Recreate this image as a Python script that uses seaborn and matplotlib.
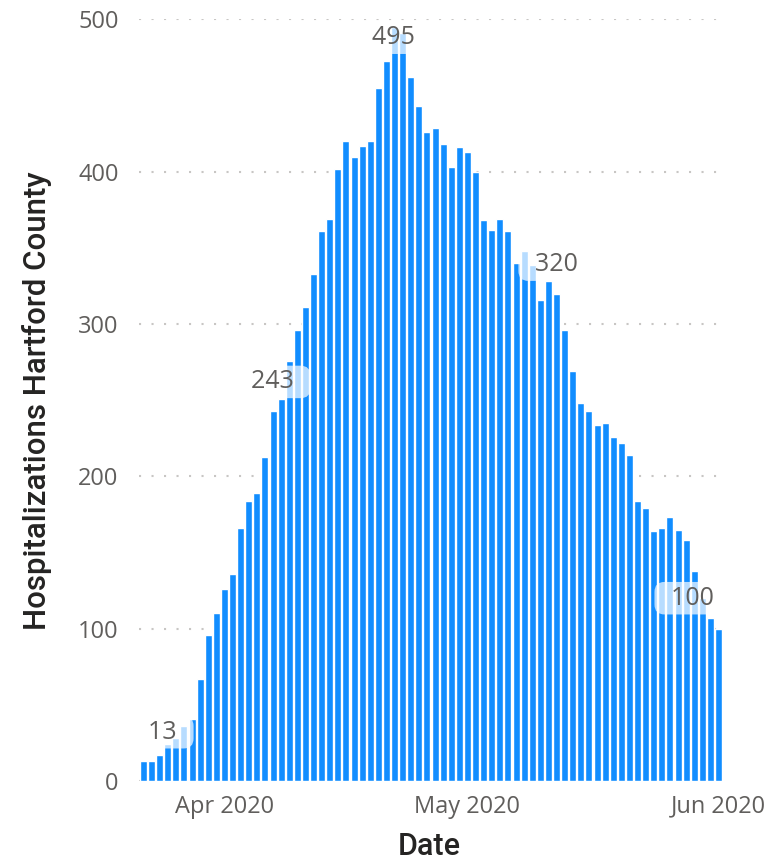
import pandas as pd
import numpy as np
import seaborn as sns
import matplotlib.pyplot as plt

# Daily hospitalizations, Hartford County
start_date = "2020-03-22"
end_date = "2020-06-01"
hospitalizations = [
    13, 13, 17, 24, 28, 36, 41, 67, 96, 110,
    126, 136, 166, 184, 189, 213, 243, 251, 276, 296,
    311, 333, 361, 369, 402, 420, 410, 417, 420, 455,
    473, 495, 491, 462, 443, 426, 429, 418, 403, 416,
    413, 400, 368, 362, 369, 361, 340, 348, 339, 316,
    328, 320, 296, 269, 248, 243, 234, 235, 226, 222,
    214, 184, 179, 164, 166, 173, 165, 158, 138, 120,
    107, 100,
]
tick_dates = ["2020-04-01", "2020-05-01", "2020-06-01"]
tick_labels = ["Apr 2020", "May 2020", "Jun 2020"]
y_ticks = [0, 100, 200, 300, 400, 500]

# data labels: (text, x position in bar units, y value)
label_texts = ["13", "243", "495", "320", "100"]
label_x = [2.35, 15.9, 30.9, 51.0, 67.8]
label_y = [32, 262, 488, 339, 120]

dates = pd.date_range(start_date, end_date, freq="D")
df = pd.DataFrame({"Date": dates, "Hosp": hospitalizations})
df["day"] = np.arange(len(df))

sns.set_theme(style="white")
plt.rcParams["font.family"] = ["Open Sans", "DejaVu Sans"]

fig = plt.figure(figsize=(7.69, 8.6), dpi=100)
ax = fig.add_axes([0.1813, 0.0919, 0.7584, 0.8855])

sns.barplot(data=df, x="day", y="Hosp", color="#118DFF", saturation=1,
            width=0.86, ax=ax)

ax.set_ylim(0, 500)
ax.set_yticks(y_ticks)
ax.set_yticklabels([str(t) for t in y_ticks])
tick_pos = [int(np.where(dates == pd.Timestamp(d))[0][0]) for d in tick_dates]
ax.set_xticks(tick_pos)
ax.set_xticklabels(tick_labels)
ax.tick_params(axis="both", length=0, labelsize=17, labelcolor="#605E5C")
ax.tick_params(axis="y", pad=15)
ax.tick_params(axis="x", pad=10)

ax.yaxis.grid(True, linestyle=(0, (1, 5)), color="#C8C6C4", linewidth=1.5)
ax.xaxis.grid(False)
ax.set_axisbelow(True)
sns.despine(ax=ax, left=True, bottom=True)

title_font = ["Roboto", "DejaVu Sans"]
ax.set_ylabel("Hospitalizations Hartford County", fontsize=22.5, color="#252423",
              family=title_font, fontweight="medium")
ax.yaxis.set_label_coords(-0.150, 0.5)
ax.set_xlabel("Date", fontsize=22, color="#252423",
              family=title_font, fontweight="medium")
ax.xaxis.set_label_coords(0.497, -0.067)

for t, x, y in zip(label_texts, label_x, label_y):
    ax.text(x, y, "  " + t + "  ", ha="center", va="center", fontsize=18,
            color="#605E5C", zorder=5,
            bbox=dict(boxstyle="round,pad=0.15,rounding_size=0.4",
                      facecolor="white", edgecolor="none", alpha=0.7))

fig.savefig("out.png", dpi=100)
